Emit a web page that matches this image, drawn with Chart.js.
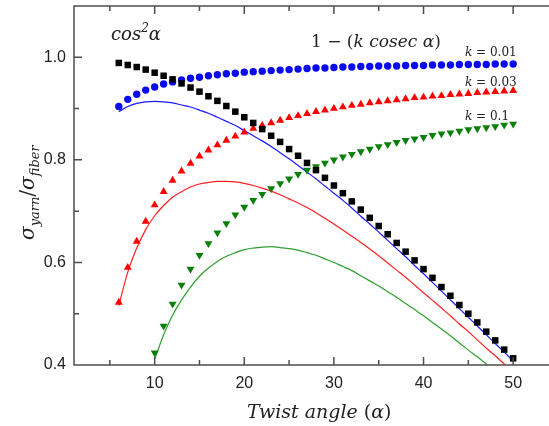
<!DOCTYPE html>
<html>
<head>
<meta charset="utf-8">
<script src="https://cdn.jsdelivr.net/npm/chart.js@4.4.1/dist/chart.umd.min.js"></script>
<style>
  html, body { margin: 0; padding: 0; background: #fff; }
  #wrap { width: 549px; height: 426px; }
</style>
</head>
<body>
<div id="wrap"><canvas id="grafico"></canvas></div>
<script>
// twist angle (degrees)
const angles = [6,7,8,9,10,11,12,13,14,15,16,17,18,19,20,21,22,23,24,25,26,27,28,29,30,
  31,32,33,34,35,36,37,38,39,40,41,42,43,44,45,46,47,48,49,50];
const anglesK01 = [10,11,12,13,14,15,16,17,18,19,20,21,22,23,24,25,26,27,28,29,30,
  31,32,33,34,35,36,37,38,39,40,41,42,43,44,45,46,47,48,49,50];

// squares: cos^2 alpha
const cos2 = [0.989,0.985,0.981,0.976,0.970,0.964,0.957,0.949,0.941,0.933,0.924,0.915,0.905,0.894,0.883,
  0.872,0.860,0.847,0.835,0.821,0.808,0.794,0.780,0.765,0.750,0.735,0.719,0.703,0.687,0.671,
  0.655,0.638,0.621,0.604,0.587,0.570,0.552,0.535,0.517,0.500,0.483,0.465,0.448,0.430,0.413];

// markers: 1 - (k cosec alpha)
const k001 = [0.904,0.918,0.928,0.936,0.942,0.948,0.952,0.956,0.959,0.961,0.964,0.966,0.968,0.969,0.971,
  0.972,0.973,0.974,0.975,0.976,0.977,0.978,0.979,0.979,0.980,0.981,0.981,0.982,0.982,0.983,
  0.983,0.983,0.984,0.984,0.984,0.985,0.985,0.985,0.986,0.986,0.986,0.986,0.987,0.987,0.987];
const k003 = [0.522,0.590,0.641,0.680,0.712,0.738,0.760,0.778,0.793,0.807,0.819,0.829,0.838,0.846,0.854,
  0.861,0.867,0.872,0.877,0.882,0.886,0.890,0.894,0.897,0.900,0.903,0.906,0.908,0.911,0.913,
  0.915,0.917,0.919,0.921,0.922,0.924,0.925,0.927,0.928,0.929,0.931,0.932,0.933,0.934,0.935];
const k01 = [0.424,0.476,0.519,0.556,0.587,0.614,0.637,0.658,0.676,0.693,0.708,0.721,0.733,0.744,0.754,
  0.763,0.772,0.780,0.787,0.794,0.800,0.806,0.811,0.816,0.821,0.826,0.830,0.834,0.838,0.841,
  0.844,0.848,0.851,0.853,0.856,0.859,0.861,0.863,0.865,0.868,0.870];

// curves: product of both
const fit001 = [0.894,0.904,0.910,0.913,0.914,0.913,0.911,0.907,0.903,0.897,0.891,0.883,0.875,0.867,0.857,
  0.847,0.837,0.826,0.814,0.802,0.789,0.776,0.763,0.749,0.735,0.721,0.706,0.690,0.675,0.659,
  0.643,0.627,0.611,0.594,0.578,0.561,0.544,0.527,0.510,0.493,0.476,0.459,0.442,0.425,0.408];
const fit003 = [0.516,0.581,0.628,0.664,0.691,0.711,0.727,0.738,0.747,0.753,0.756,0.758,0.758,0.757,0.754,
  0.750,0.745,0.739,0.732,0.724,0.716,0.707,0.697,0.686,0.675,0.663,0.651,0.639,0.626,0.613,
  0.599,0.585,0.571,0.556,0.541,0.526,0.511,0.496,0.480,0.465,0.449,0.433,0.418,0.402,0.386];
const fit01 = [0.411,0.459,0.497,0.527,0.552,0.573,0.589,0.602,0.612,0.619,0.625,0.628,0.630,0.631,0.629,
  0.627,0.624,0.619,0.614,0.607,0.600,0.592,0.584,0.574,0.564,0.554,0.543,0.532,0.520,0.508,
  0.496,0.483,0.470,0.457,0.443,0.429,0.416,0.402,0.388,0.373,0.359];

const xTicks = [10,20,30,40,50];
const xMinor = [5,15,25,35,45];
const yTicks = [0.4,0.6,0.8,1.0];
const yMinor = [0.5,0.7,0.9];

function pts(xs, ys) { return xs.map((x, i) => ({x: x, y: ys[i]})); }

const SERIF = '"DejaVu Serif"';

// frame (no right side, it is off the picture), inward ticks and the text labels
const decor = {
  id: 'decor',
  afterDraw(chart) {
    const c = chart.ctx, a = chart.chartArea;
    const sx = chart.scales.x, sy = chart.scales.y;
    c.save();
    c.strokeStyle = '#4d4d4d';
    c.lineWidth = 1.5;
    c.beginPath();
    c.moveTo(a.right + 2, a.top); c.lineTo(a.left, a.top);
    c.lineTo(a.left, a.bottom); c.lineTo(a.right + 2, a.bottom);
    const tx = (v, len) => {
      const p = sx.getPixelForValue(v);
      c.moveTo(p, a.bottom); c.lineTo(p, a.bottom - len);
      c.moveTo(p, a.top); c.lineTo(p, a.top + len);
    };
    const ty = (v, len) => {
      const p = sy.getPixelForValue(v);
      c.moveTo(a.left, p); c.lineTo(a.left + len, p);
    };
    xTicks.forEach(v => tx(v, 8));
    xMinor.forEach(v => tx(v, 5));
    yTicks.forEach(v => ty(v, 8));
    yMinor.forEach(v => ty(v, 5));
    c.stroke();

    c.fillStyle = '#222';
    c.textBaseline = 'alphabetic';
    c.textAlign = 'left';

    // draw pieces one after another
    const run = (x, y, parts) => {
      parts.forEach(p => {
        c.font = p[1];
        c.fillText(p[0], x, y + (p[2] || 0));
        x += c.measureText(p[0]).width;
      });
    };

    run(111, 40, [['cos', 'italic 18px ' + SERIF], ['2', 'italic 12px ' + SERIF, -8], ['α', 'italic 18px ' + SERIF]]);
    run(311, 47, [['1 − (', '17px ' + SERIF], ['k cosec α', 'italic 17px ' + SERIF], [')', '17px ' + SERIF]]);
    run(465, 56, [['k', 'italic 12px ' + SERIF], [' = 0.01', '12px ' + SERIF]]);
    run(465, 86, [['k', 'italic 12px ' + SERIF], [' = 0.03', '12px ' + SERIF]]);
    run(465, 120, [['k', 'italic 12px ' + SERIF], [' = 0.1', '12px ' + SERIF]]);

    run(247, 418, [['Twist angle ', 'italic 19px ' + SERIF], ['(', '19px ' + SERIF], ['α', 'italic 19px ' + SERIF], [')', '19px ' + SERIF]]);

    // y title, rotated
    c.translate(34, 240);
    c.rotate(-Math.PI / 2);
    run(0, 0, [['σ', 'italic 20px ' + SERIF], ['yarn', 'italic 13px ' + SERIF, 5], ['/', '20px ' + SERIF],
      ['σ', 'italic 20px ' + SERIF], ['fiber', 'italic 13px ' + SERIF, 5]]);
    c.restore();
  }
};

const ctx = document.getElementById('grafico').getContext('2d');
const grafico = new Chart(ctx, {
  type: 'line',
  data: {
    datasets: [
      { label: 'cos2', data: pts(angles, cos2), showLine: false, pointStyle: 'rect',
        pointRadius: 4.6, backgroundColor: '#000', borderColor: '#000', borderWidth: 0 },
      { label: 'k = 0.01', data: pts(angles, k001), showLine: false, pointStyle: 'circle',
        pointRadius: 3.7, backgroundColor: '#0a0af0', borderColor: '#0a0af0', borderWidth: 0 },
      { label: 'k = 0.03', data: pts(angles, k003), showLine: false, pointStyle: 'triangle',
        pointRadius: 4.6, backgroundColor: '#ff0000', borderColor: '#ff0000', borderWidth: 0 },
      { label: 'k = 0.1', data: pts(anglesK01, k01), showLine: false, pointStyle: 'triangle', pointRotation: 180,
        pointRadius: 4.6, backgroundColor: '#0a800a', borderColor: '#0a800a', borderWidth: 0 },
      { label: 'fit 0.01', data: pts(angles, fit001), pointRadius: 0, borderColor: '#1a1aff',
        borderWidth: 1.2, cubicInterpolationMode: 'monotone' },
      { label: 'fit 0.03', data: pts(angles, fit003), pointRadius: 0, borderColor: '#ff2020',
        borderWidth: 1.2, cubicInterpolationMode: 'monotone' },
      { label: 'fit 0.1', data: pts(anglesK01, fit01), pointRadius: 0, borderColor: '#2e9e2e',
        borderWidth: 1.2, cubicInterpolationMode: 'monotone' }
    ]
  },
  options: {
    responsive: true,
    maintainAspectRatio: false,
    animation: false,
    layout: { autoPadding: false, padding: { top: 6, right: 0, left: 0, bottom: 0 } },
    plugins: { legend: { display: false }, tooltip: { enabled: false } },
    scales: {
      x: {
        type: 'linear', min: 1, max: 54,
        afterBuildTicks: s => { s.ticks = xTicks.map(v => ({value: v})); },
        afterFit: s => { s.height = 61; s.paddingLeft = 0; s.paddingRight = 0; },
        grid: { display: false, drawTicks: false },
        border: { display: false },
        ticks: { padding: 9, color: '#222', font: { family: '"Liberation Sans"', size: 16 } }
      },
      y: {
        type: 'linear', min: 0.4, max: 1.1,
        afterBuildTicks: s => { s.ticks = yTicks.map(v => ({value: v})); },
        afterFit: s => { s.width = 74; s.paddingTop = 0; s.paddingBottom = 0; },
        grid: { display: false, drawTicks: false },
        border: { display: false },
        ticks: { padding: 8, color: '#222', font: { family: '"Liberation Sans"', size: 16 },
          callback: v => v.toFixed(1) }
      }
    }
  },
  plugins: [decor]
});
</script>
</body>
</html>
